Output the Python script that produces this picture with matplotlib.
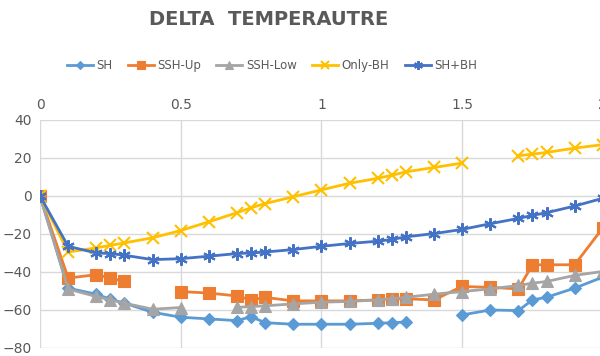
import numpy as np
import matplotlib
matplotlib.use("Agg")
import matplotlib.pyplot as plt

nan = np.nan

x = [0, 0.1, 0.2, 0.25, 0.3, 0.4, 0.5, 0.6, 0.7, 0.75, 0.8, 0.9, 1.0,
     1.1, 1.2, 1.25, 1.3, 1.4, 1.5, 1.6, 1.7, 1.75, 1.8, 1.9, 2.0]

sh = [0, -48.5, -51.7, -54.3, -56.4, -61.2, -63.8, -64.7, -65.6, -63.5, -66.7, -67.5, -67.5,
      -67.5, -67.0, -66.7, -66.3, nan, -62.6, -60.0, -60.3, -54.7, -53.3, -48.5, -42.7]
ssh_up = [0, -43.2, -41.4, -43.2, -45.0, nan, -50.3, -51.1, -52.6, -54.7, -53.4, -55.2, -55.2,
          -55.2, -54.7, -54.1, -54.1, -54.7, -47.6, -48.1, -48.9, -36.2, -36.2, -36.2, -16.8]
ssh_low = [0, -49.0, -52.9, -54.7, -56.4, -59.6, -58.7, nan, -58.6, -58.2, -57.8, -56.8, -55.9,
           -55.5, -54.7, -54.1, -53.3, -51.7, -50.3, -48.9, -47.1, -45.9, -45.0, -41.8, -39.7]
only_bh = [0, -29.5, -27.3, -26.0, -24.7, -22.0, -18.2, -13.6, -8.8, -6.2, -4.0, -0.4, 3.2,
           6.7, 9.3, 10.9, 12.7, 15.0, 17.3, nan, 21.2, 22.0, 22.9, 25.2, 27.0]
sh_bh = [0, -26.5, -30.0, -30.3, -31.2, -33.5, -33.0, -31.7, -30.3, -30.0, -29.5, -28.2, -26.5,
         -25.0, -23.8, -22.9, -21.5, -19.8, -17.6, -14.6, -11.8, -10.2, -8.8, -5.3, -1.2]

x_ticks = [0, 0.5, 1, 1.5, 2]
x_labels = ["0", "0.5", "1", "1.5", "2"]
y_ticks = [-80, -60, -40, -20, 0, 20, 40]

series = [
    ("SH", sh, "#5B9BD5", "D", 6),
    ("SSH-Up", ssh_up, "#ED7D31", "s", 8),
    ("SSH-Low", ssh_low, "#A5A5A5", "^", 8),
    ("Only-BH", only_bh, "#FFC000", "x", 8),
    ("SH+BH", sh_bh, "#4472C4", (6, 2, 0), 9),
]

text_col = "#595959"

fig = plt.figure(figsize=(6, 3.56), dpi=100)
ax = fig.add_axes([0.0667, 0.0225, 0.938, 0.6405])

for name, vals, col, mk, ms in series:
    ax.plot(x, vals, color=col, lw=2, marker=mk, markersize=ms,
            markeredgewidth=1.5 if mk in ("x", (6, 2, 0)) else 0.8,
            markeredgecolor=col, markerfacecolor=col, label=name)

ax.set_xlim(0, 2)
ax.set_ylim(-80, 40)
ax.set_xticks(x_ticks)
ax.set_xticklabels(x_labels)
ax.set_yticks(y_ticks)
ax.xaxis.tick_top()
ax.tick_params(length=0, labelsize=10, colors=text_col, pad=6)
ax.grid(True, color="#D9D9D9", lw=1)
ax.set_axisbelow(True)
for s in ax.spines.values():
    s.set_visible(False)

fig.text(0.447, 0.945, "DELTA  TEMPERAUTRE", ha="center", va="center",
         fontsize=14, fontweight="bold", color=text_col)

handles, labels = ax.get_legend_handles_labels()
fig.legend(handles, labels, loc="center", bbox_to_anchor=(0.453, 0.817), ncol=5,
           frameon=False, fontsize=8.5, handlelength=2.2, handletextpad=0.3,
           columnspacing=1.3, labelcolor=text_col, markerscale=0.7)

fig.savefig("out.png", dpi=100)
